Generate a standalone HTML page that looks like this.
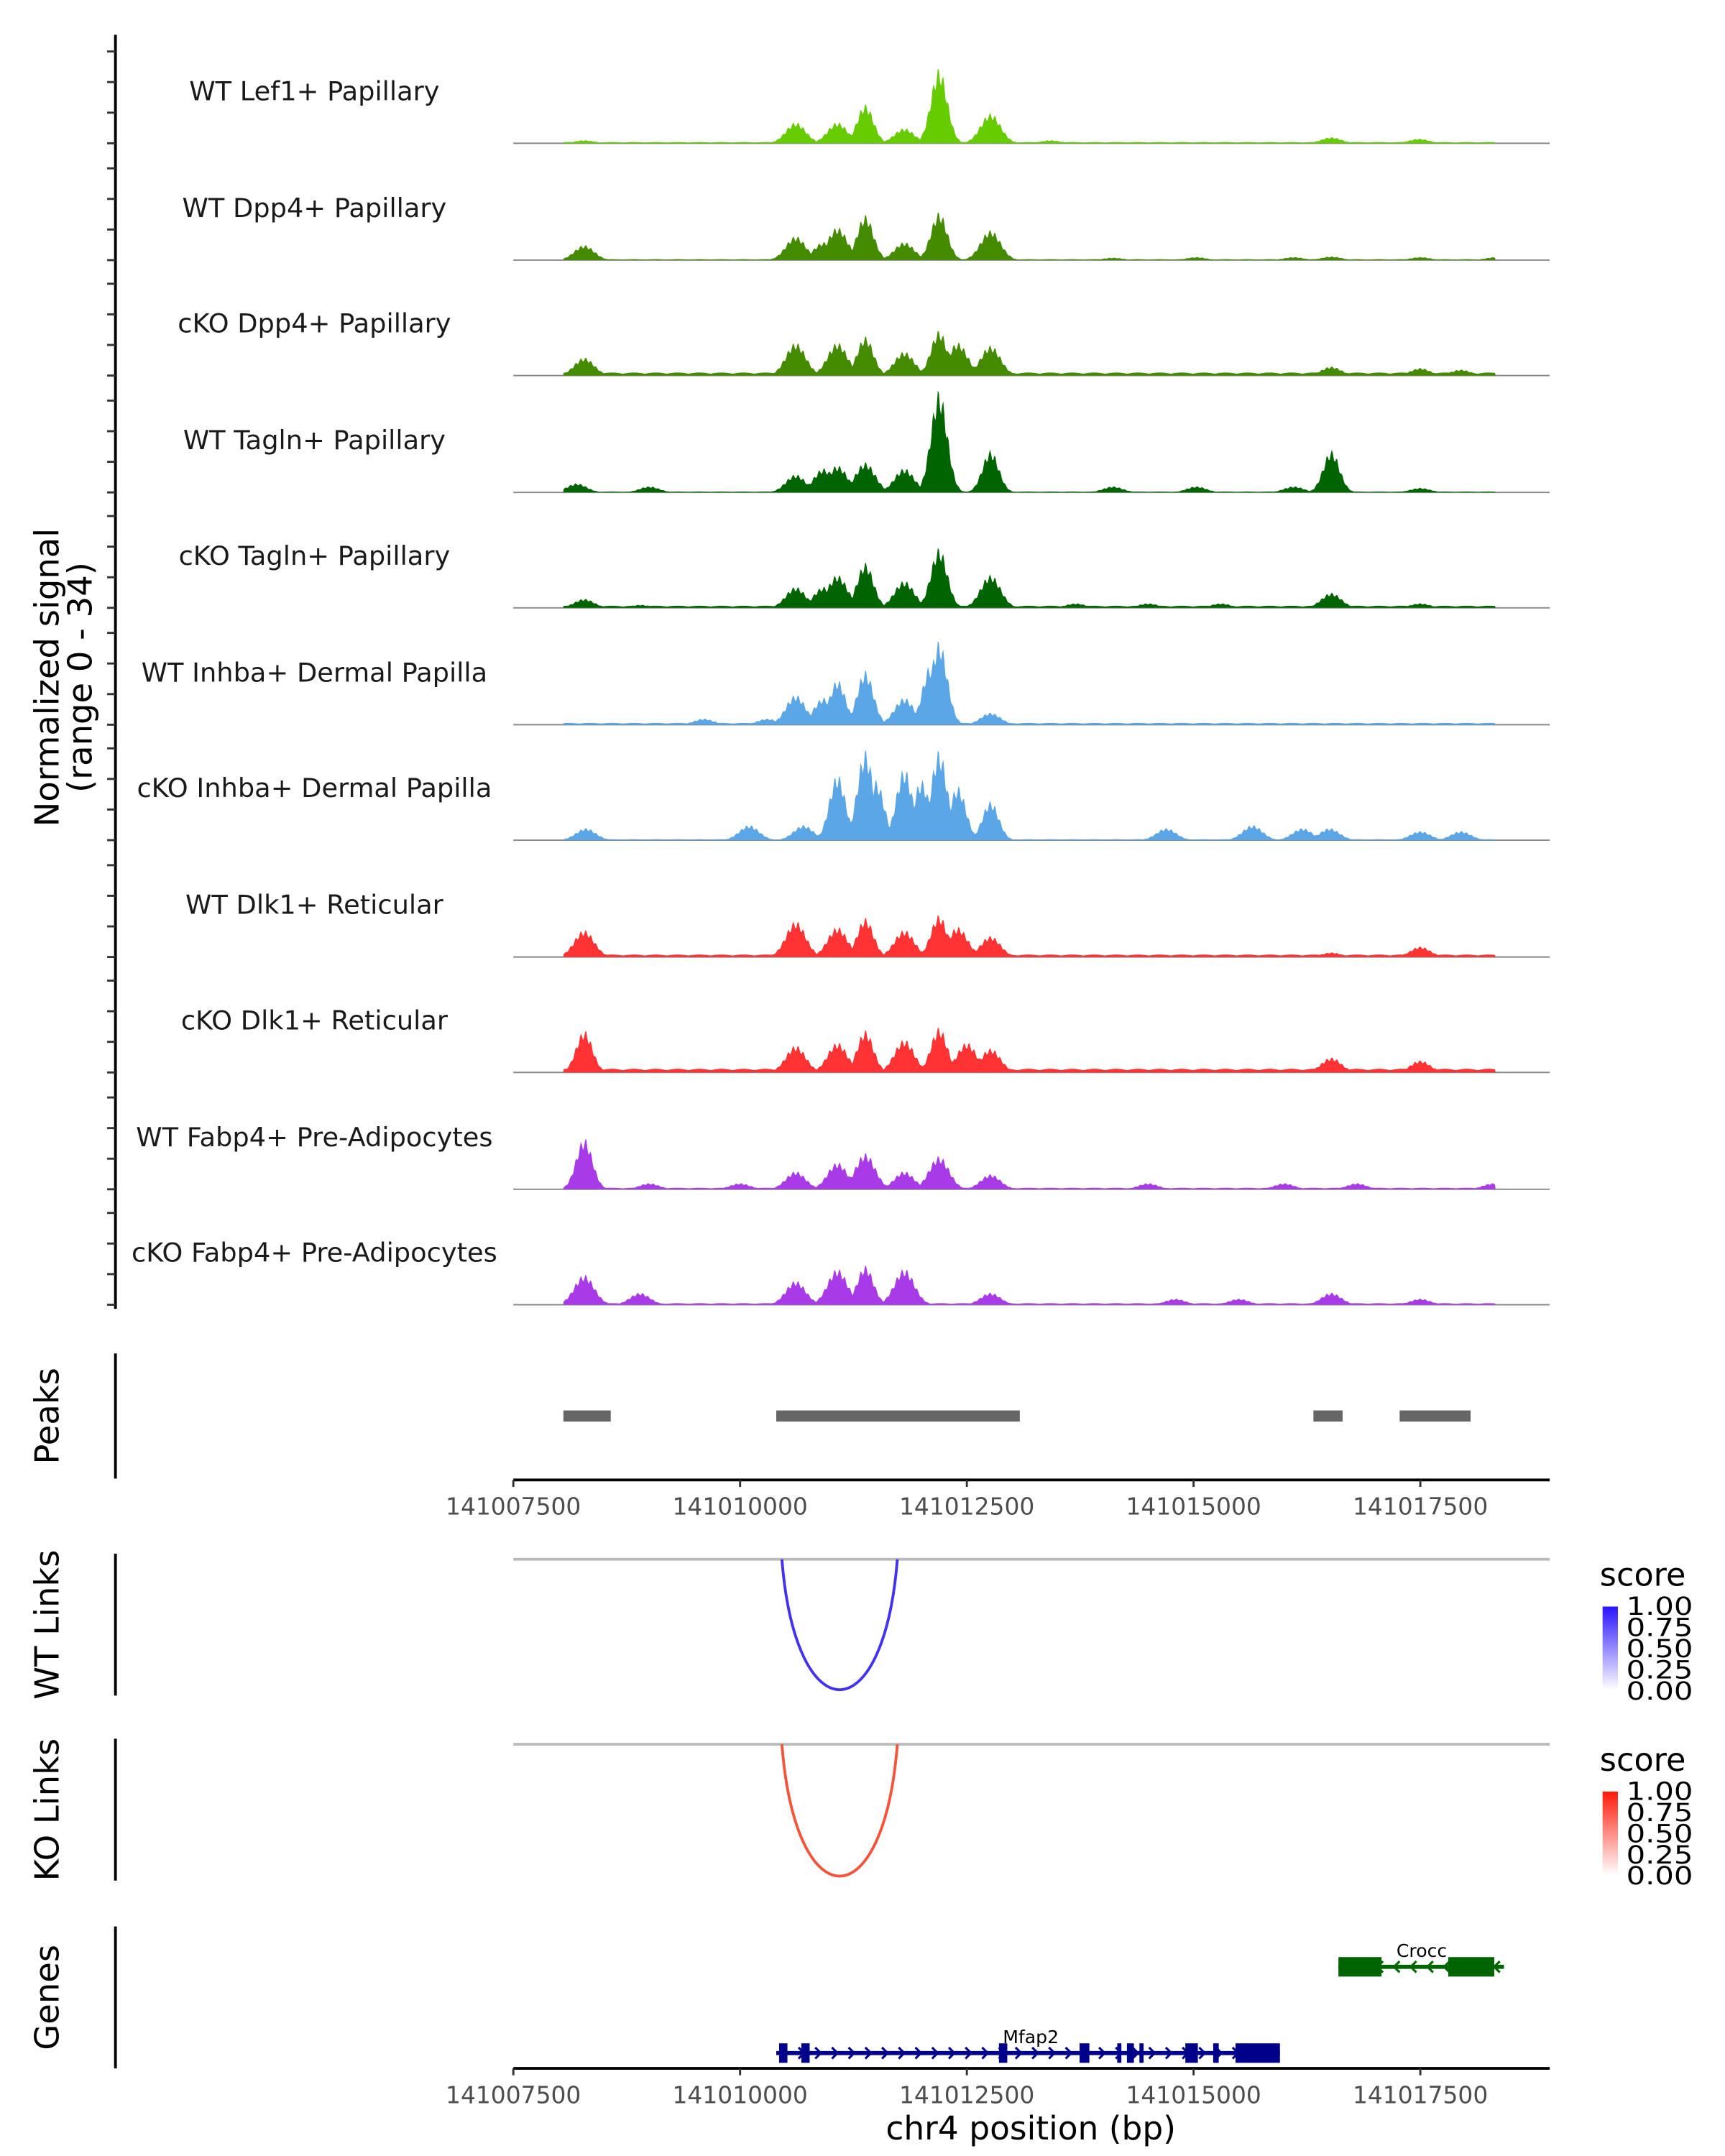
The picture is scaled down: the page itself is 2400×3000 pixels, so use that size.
<!DOCTYPE html>
<html><head><meta charset="utf-8"><style>
html,body{margin:0;padding:0;background:#fff;}
svg{display:block;font-family:"DejaVu Sans","Liberation Sans",sans-serif;}
</style></head><body>
<svg id="chart" width="2400" height="3000" viewBox="0 0 1240 1550" xmlns="http://www.w3.org/2000/svg">
<g id="g-main"></g>
</svg>
<script>
// genomic region (offsets relative to 141007500)
const regionStart = 552, regionEnd = 10830;
const tickLabels = ["141007500","141010000","141012500","141015000","141017500"];
const tickOffsets = [0, 2500, 5000, 7500, 10000];
const trackNames = ["WT Lef1+ Papillary","WT Dpp4+ Papillary","cKO Dpp4+ Papillary","WT Tagln+ Papillary","cKO Tagln+ Papillary","WT Inhba+ Dermal Papilla","cKO Inhba+ Dermal Papilla","WT Dlk1+ Reticular","cKO Dlk1+ Reticular","WT Fabp4+ Pre-Adipocytes","cKO Fabp4+ Pre-Adipocytes"];
const trackColors = ["#66cc00","#448b00","#448b00","#006400","#006400","#5aa6e6","#5aa6e6","#ff3333","#ff3333","#a93ae8","#a93ae8"];
// peak positions (bp offset) and heights (signal units, range 0-34)
const pos0 = [782,3114,3574,3881,4311,4694,5262,5921,9019,9986];
const hgt0 = [1,7,7,13,5,25,10,1,2,1.5];
const pos1 = [782,3114,3420,3574,3881,4311,4694,5262,6611,7531,8605,9019,10000,10830];
const hgt1 = [5,8,6,11,15,6,16,10,0.8,1,1,1.2,1,1];
const pos2 = [782,3114,3574,3881,4311,4694,4900,5262,9019,10000,10447];
const hgt2 = [6,11,11,13,8,15,11,10,3,2.5,2];
const pos3 = [700,1500,3114,3420,3574,3881,4311,4694,5262,6611,7531,8605,9019,10000];
const hgt3 = [3,2,6,8,9,10,8,34,14,2,2,2,14,1.5];
const pos4 = [782,1400,3114,3420,3574,3881,4311,4694,5262,6200,7000,7800,9019,10000];
const hgt4 = [3,1,7,7,11,15,9,20,11,1.5,1.5,1.5,5,1.5];
const pos5 = [2100,2800,3114,3420,3574,3881,4311,4600,4694,5262];
const hgt5 = [2,2,10,9,15,18,9,20,28,4];
const pos6 = [800,2600,3200,3574,3881,4000,4311,4500,4694,4900,5262,7200,8150,8700,9000,10000,10447];
const hgt6 = [4,5,5,22,30,20,24,20,30,18,13,4,5,4,4,3,3];
const pos7 = [782,3114,3574,3881,4311,4694,4900,5262,9019,10000];
const hgt7 = [9,12,10,13,9,14,10,7,1.5,3.5];
const pos8 = [782,3114,3574,3881,4311,4694,5000,5262,9019,10000];
const hgt8 = [14,9,10,14,11,15,10,8,5,4];
const pos9 = [782,1500,2500,3114,3574,3881,4311,4694,5262,7000,8500,9300,10800];
const hgt9 = [17,2,2,6,9,12,6,11,5,2,2,2,2];
const pos10 = [782,1396,3114,3574,3881,4311,5262,7300,8000,9019,10000];
const hgt10 = [10,4,8,12,13,12,4,2,2,4,2];
const floorLevel = [0.4,0.3,1,0.3,0.7,0.6,0.3,0.8,1.2,0.5,0.5];
// peak regions
const peakStarts = [552,2899,8821,9772];
const peakEnds = [1074,5584,9143,10554];
// links
const linkStart = [2961], linkEnd = [4234];
// genes
const mfapExonStart = [2930,3175,5354,6243,6658,6765,6903,7409,7716,7962];
const mfapExonEnd = [3022,3267,5446,6351,6704,6842,6949,7547,7777,8452];
const mfapSpan = [2899,8452];
const croccExonStart = [9097,10308];
const croccExonEnd = [9572,10815];
const croccSpan = [9097,10922];

const NS="http://www.w3.org/2000/svg";
const g=document.getElementById('g-main');
const X = o => 369 + o*0.0652;
const UNIT = 2.2;
function mk(tag, attrs, parent){const e=document.createElementNS(NS,tag);for(const k in attrs)e.setAttribute(k,attrs[k]);(parent||g).appendChild(e);return e;}
function txt(s, attrs){const e=mk('text',attrs);e.textContent=s;return e;}

const posArr=[pos0,pos1,pos2,pos3,pos4,pos5,pos6,pos7,pos8,pos9,pos10];
const hArr=[hgt0,hgt1,hgt2,hgt3,hgt4,hgt5,hgt6,hgt7,hgt8,hgt9,hgt10];
const baselines=[103,187,270,354,437,521,604,688,771,855,938];

// left axis
let ax=mk('line',{x1:83,y1:25,x2:83,y2:941,stroke:'#000','stroke-width':2});


for(let t=0;t<11;t++){
  for(let k=0;k<4;k++){
    const y=baselines[t]-k*10*UNIT;
    let tk=mk('line',{x1:77,y1:y,x2:83,y2:y,stroke:'#333','stroke-width':1.5});
    
    
  }
  const b=baselines[t];
  let d='M'+X(regionStart)+','+b;
  for(let o=regionStart;o<=regionEnd;o+=12){
    let v=floorLevel[t]*(0.6+0.4*Math.abs(Math.sin(o*0.013)));
    const P=posArr[t],H=hArr[t];
    for(let i=0;i<P.length;i++){const dd=o-P[i];const w=H[i]>12?90:110;v=Math.max(v,H[i]*Math.exp(-dd*dd/(2*w*w))*(0.88+0.12*Math.cos(o*0.11)));}
    d+=' L'+X(o).toFixed(2)+','+(b-v*UNIT).toFixed(2);
  }
  d+=' L'+X(regionEnd)+','+b+' Z';
  let bl=mk('line',{x1:369,y1:b,x2:1114,y2:b,stroke:'#888','stroke-width':1});
  
  
  let area=mk('path',{d:d,fill:trackColors[t],stroke:'none'});
  
  
  let lb=txt(trackNames[t],{x:226,y:b-31,'text-anchor':'middle','font-size':19,fill:'#1a1a1a'});
  
  
}
let yl=txt('Normalized signal',{x:0,y:0,'font-size':24,'text-anchor':'middle',fill:'#000',transform:'translate(42,487) rotate(-90)'});


let yl2=txt('(range 0 - 34)',{x:0,y:0,'font-size':24,'text-anchor':'middle',fill:'#000',transform:'translate(66,487) rotate(-90)'});



function sideLabel(s,y1,y2,name){
  let l=mk('line',{x1:83,y1:y1,x2:83,y2:y2,stroke:'#000','stroke-width':2});
  
  
  let t=txt(s,{x:0,y:0,'font-size':24,'text-anchor':'middle',fill:'#000',transform:'translate(42,'+((y1+y2)/2)+') rotate(-90)'});
  
  
}
// peaks
sideLabel('Peaks',973,1063,'peaks');
for(let i=0;i<peakStarts.length;i++){
  let r=mk('rect',{x:X(peakStarts[i]),y:1014,width:X(peakEnds[i])-X(peakStarts[i]),height:8,fill:'#666'});
  
  
}
function xAxis(y,name){
  let l=mk('line',{x1:369,y1:y,x2:1114,y2:y,stroke:'#000','stroke-width':2});
  
  
  for(let i=0;i<tickOffsets.length;i++){
    const x=X(tickOffsets[i]);
    let tk=mk('line',{x1:x,y1:y,x2:x,y2:y+5,stroke:'#333','stroke-width':1.5});
    
    
    let t=txt(tickLabels[i],{x:x,y:y+25,'text-anchor':'middle','font-size':17,fill:'#4d4d4d'});
    
    
  }
}
xAxis(1064,'peaks-x-axis');

// links
function links(top,bottom,color,c1,name){
  sideLabel(name==='wt'?'WT Links':'KO Links',top-4,top+98,name+'-links');
  let gl=mk('line',{x1:369,y1:top,x2:1114,y2:top,stroke:'#bbb','stroke-width':2});
  
  
  for(let i=0;i<linkStart.length;i++){
    const a=X(linkStart[i]),b=X(linkEnd[i]);
    const depth=bottom-top;
    let p=mk('path',{d:'M'+a+','+top+' C'+(a+(b-a)*0.12)+','+(top+depth*1.33)+' '+(b-(b-a)*0.12)+','+(top+depth*1.33)+' '+b+','+top,fill:'none',stroke:color,'stroke-width':2});
    
    
  }
  const ly=top+19;
  let st=txt('score',{x:1150,y:ly,'font-size':23,fill:'#000'});
  
  
  const gid='grad-'+name;
  const defs=mk('defs',{});
  const lg=mk('linearGradient',{id:gid,x1:0,y1:1,x2:0,y2:0},defs);
  mk('stop',{offset:0,'stop-color':'#fff'},lg);
  mk('stop',{offset:1,'stop-color':c1},lg);
  let bar=mk('rect',{x:1152,y:ly+15,width:11,height:60,fill:'url(#'+gid+')'});
  
  
  const labs=['1.00','0.75','0.50','0.25','0.00'];
  for(let i=0;i<5;i++){
    let t=txt(labs[i],{x:1169,y:ly+21+i*15.2,'font-size':18,fill:'#000',textLength:48,lengthAdjust:'spacingAndGlyphs'});
    
    
  }
}
links(1121,1215,'#4433ee','#2a14ff','wt');
links(1254,1349,'#f4553a','#ff1a0a','ko');

// genes
sideLabel('Genes',1385,1487,'genes');
function gene(span,es,ee,y,color,name,dir,lx){
  let l=mk('line',{x1:X(span[0]),y1:y,x2:X(span[1]),y2:y,stroke:color,'stroke-width':3});
  
  
  for(let x=X(span[0])+6;x<X(span[1])-4;x+=12){
    const a=dir>0?'M'+(x-2)+','+(y-4)+' L'+(x+2)+','+y+' L'+(x-2)+','+(y+4):'M'+(x+2)+','+(y-4)+' L'+(x-2)+','+y+' L'+(x+2)+','+(y+4);
    let p=mk('path',{d:a,stroke:color,'stroke-width':1.6,fill:'none'});
    
    
  }
  for(let i=0;i<es.length;i++){
    let r=mk('rect',{x:X(es[i]),y:y-7,width:Math.max(2,X(ee[i])-X(es[i])),height:14,fill:color});
    
    
  }
  let t=txt(name,{x:lx,y:y-7,'text-anchor':'middle','font-size':13,fill:'#000'});
  
  
}
gene(croccSpan,croccExonStart,croccExonEnd,1414,'#006400','Crocc',-1,1022);
gene(mfapSpan,mfapExonStart,mfapExonEnd,1476,'#00008b','Mfap2',1,741);
xAxis(1487,'genes-x-axis');
let xt=txt('chr4 position (bp)',{x:741,y:1538,'text-anchor':'middle','font-size':23.5,fill:'#000'});


</script>
</body></html>
